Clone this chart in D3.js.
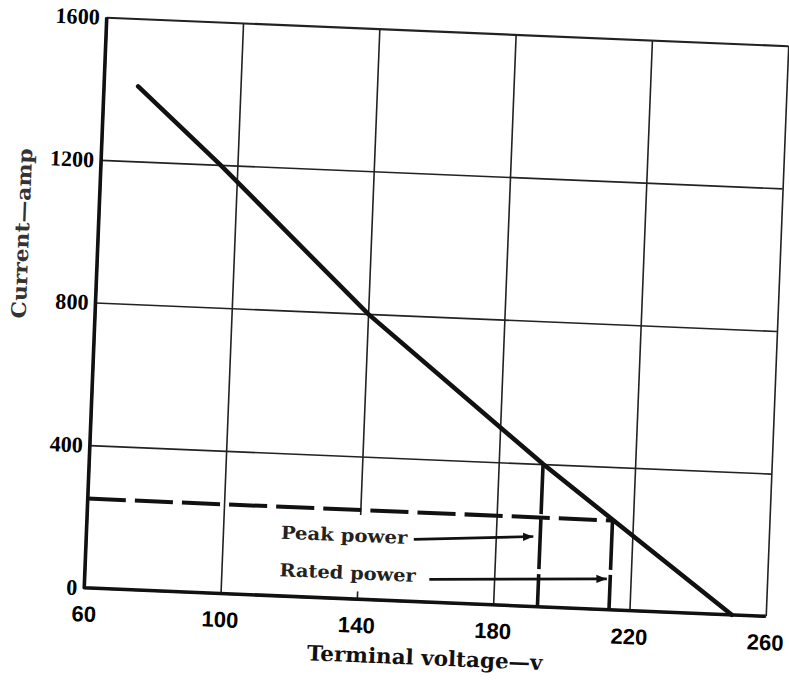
<!DOCTYPE html>
<html>
<head>
<meta charset="utf-8">
<script src="https://cdn.jsdelivr.net/npm/d3@7"></script>
<style>
body { margin: 0; background: #fff; }
</style>
</head>
<body>
<svg width="789" height="682"></svg>
<script>
// values
const xTicks = [60, 100, 140, 180, 220, 260];
const yTicks = [0, 400, 800, 1200, 1600];

const curveVolt = [70, 95, 140, 193, 250];
const curveAmp = [1410, 1200, 800, 400, 0];

const loadVolt = [60, 214];
const loadAmp = [250, 250];

const peakVolt = [193, 193];
const peakAmp = [400, 0];
const ratedVolt = [214, 214];
const ratedAmp = [252, 0];

const noteLabels = ["Peak power", "Rated power"];
const noteTextVolt = [117, 117];
const noteTextAmp = [178, 73];
const noteFrom = [[156, 174], [161, 64]];
const noteTo = [[191, 196], [213, 86]];

const svg = d3.select("svg");

const W = 680, H = 570;
const x = d3.scaleLinear().domain([60, 260]).range([0, W]);
const y = d3.scaleLinear().domain([0, 1600]).range([H, 0]);

const serif = "'DejaVu Serif Condensed', 'DejaVu Serif', serif";

// the scanned page sits a little rotated, so the whole chart is drawn in a tilted group
const g = svg.append("g")
    .attr("transform", "matrix(1.0022,0.0419,-0.0395,1.0009,106.75,17.25)");

svg.append("defs").append("marker")
    .attr("id", "head")
    .attr("viewBox", "0 0 10 10")
    .attr("refX", 10)
    .attr("refY", 5)
    .attr("markerWidth", 4)
    .attr("markerHeight", 4)
    .attr("orient", "auto")
    .append("path")
    .attr("d", "M0,1 L10,5 L0,9 Z")
    .attr("fill", "#111");

// grid + tick labels
const gx = g.append("g")
    .attr("transform", `translate(0,${H})`)
    .call(d3.axisBottom(x).tickValues(xTicks).tickSize(-H).tickPadding(18).tickFormat(d3.format("d")));
gx.select(".domain").remove();
gx.selectAll("line").attr("stroke", "#222").attr("stroke-width", 1.6);
gx.selectAll("text")
    .attr("fill", "#000")
    .style("font-family", "'Liberation Sans', Arial, sans-serif")
    .style("font-weight", "bold")
    .style("font-size", "22px");

const gy = g.append("g")
    .call(d3.axisLeft(y).tickValues(yTicks).tickSize(-W).tickPadding(7).tickFormat(d3.format("d")));
gy.select(".domain").remove();
gy.selectAll("line").attr("stroke", "#222").attr("stroke-width", d => d === 1600 ? 2.2 : 1.6);
gy.selectAll("text")
    .attr("fill", "#000")
    .style("font-family", "'Liberation Serif', 'Times New Roman', serif")
    .style("font-weight", "bold")
    .style("font-size", "22px");

// the 140 grid line is broken behind the notes
g.append("rect")
    .attr("x", x(113))
    .attr("width", x(158) - x(113))
    .attr("y", y(236))
    .attr("height", y(22) - y(236))
    .attr("fill", "#fff");

// heavy left and bottom axes
g.append("path")
    .attr("d", `M${x(60)},${y(1600)} L${x(60)},${y(0)} L${x(260)},${y(0)}`)
    .attr("fill", "none")
    .attr("stroke", "#111")
    .attr("stroke-width", 3.6)
    .attr("stroke-linejoin", "round");

const line = d3.line()
    .x(d => x(d[0]))
    .y(d => y(d[1]));

g.append("path")
    .datum(curveVolt.map((v, i) => [v, curveAmp[i]]))
    .attr("d", line)
    .attr("fill", "none")
    .attr("stroke", "#111")
    .attr("stroke-width", 4.5)
    .attr("stroke-linecap", "round");

g.append("path")
    .datum(loadVolt.map((v, i) => [v, loadAmp[i]]))
    .attr("d", line)
    .attr("fill", "none")
    .attr("stroke", "#111")
    .attr("stroke-width", 4)
    .attr("stroke-dasharray", "38,9");

[[peakVolt, peakAmp], [ratedVolt, ratedAmp]].forEach(([vs, as]) => {
    g.append("path")
        .datum(vs.map((v, i) => [v, as[i]]))
        .attr("d", line)
        .attr("fill", "none")
        .attr("stroke", "#111")
        .attr("stroke-width", 3.6)
        .attr("stroke-dasharray", "50,5");
});

// notes with arrows
noteLabels.forEach((label, i) => {
    g.append("text")
        .attr("x", x(noteTextVolt[i]))
        .attr("y", y(noteTextAmp[i]))
        .attr("dy", "0.35em")
        .attr("textLength", label === "Peak power" ? 126 : 136)
        .attr("lengthAdjust", "spacingAndGlyphs")
        .attr("fill", "#222")
        .style("font-family", serif)
        .style("font-weight", "bold")
        .style("font-size", "18px")
        .text(label);

    g.append("line")
        .attr("x1", x(noteFrom[i][0]))
        .attr("y1", y(noteFrom[i][1]))
        .attr("x2", x(noteTo[i][0]))
        .attr("y2", y(noteTo[i][1]))
        .attr("stroke", "#111")
        .attr("stroke-width", 2.6)
        .attr("marker-end", "url(#head)");
});

// axis titles
g.append("text")
    .attr("x", x(160.6))
    .attr("y", H + 63)
    .attr("text-anchor", "middle")
    .attr("textLength", 235)
    .attr("lengthAdjust", "spacingAndGlyphs")
    .attr("fill", "#111")
    .style("font-family", serif)
    .style("font-weight", "bold")
    .style("font-size", "21px")
    .text("Terminal voltage\u2014v");

g.append("text")
    .attr("transform", `translate(-76,${y(985)}) rotate(-90)`)
    .attr("text-anchor", "middle")
    .attr("dy", "0.35em")
    .attr("textLength", 170)
    .attr("lengthAdjust", "spacingAndGlyphs")
    .attr("fill", "#333")
    .style("font-family", serif)
    .style("font-weight", "bold")
    .style("font-size", "20px")
    .text("Current\u2014amp");
</script>
</body>
</html>
